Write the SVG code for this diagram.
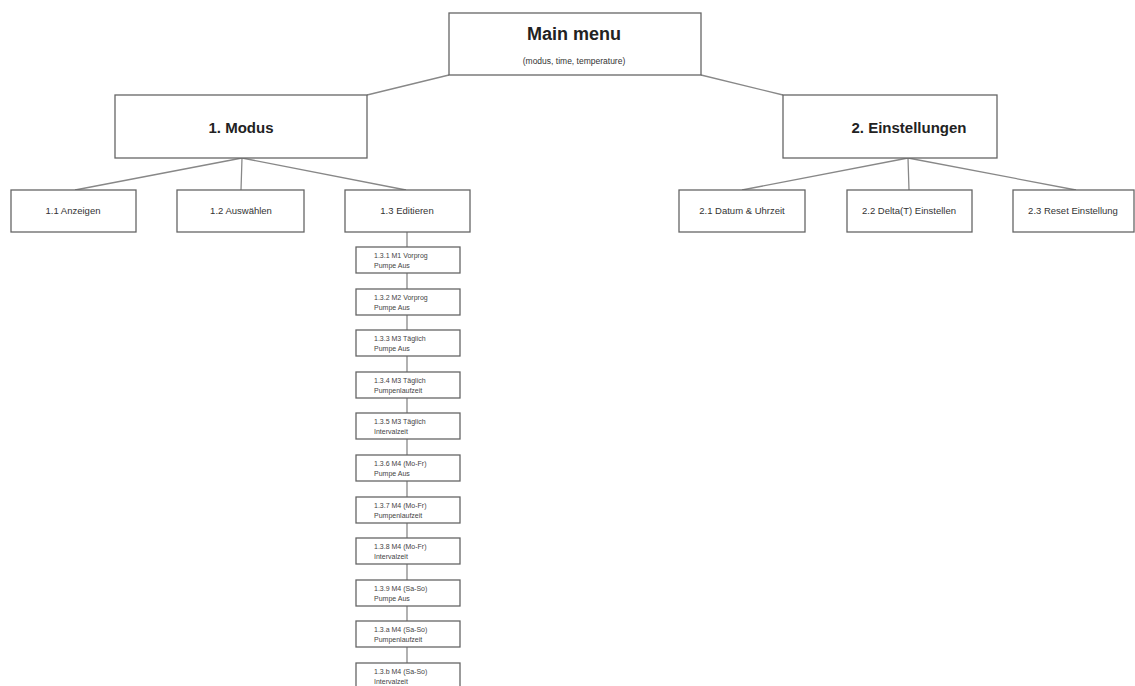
<svg xmlns="http://www.w3.org/2000/svg" width="1135" height="686" viewBox="0 0 1135 686">
<style>
.box{fill:#fff;stroke:#666;stroke-width:1.3}
.ln{stroke:#888;stroke-width:1.3;fill:none}
.t{font-family:"Liberation Sans",Arial,sans-serif;fill:#333;text-anchor:middle}
.big{font-size:18px;font-weight:bold;fill:#222}
.mid{font-size:15px;font-weight:bold;fill:#222}
.sm{font-size:9.5px}
.xs{font-family:"Liberation Sans",Arial,sans-serif;fill:#444;font-size:7px}
</style>
<rect width="1135" height="686" fill="#fff"/>
<g id="connectors">
<line class="ln" x1="449" y1="75" x2="367" y2="95"/>
<line class="ln" x1="701" y1="75" x2="783" y2="95"/>
<line class="ln" x1="242" y1="158" x2="75" y2="190"/>
<line class="ln" x1="242" y1="158" x2="241" y2="190"/>
<line class="ln" x1="242" y1="158" x2="406" y2="190"/>
<line class="ln" x1="908" y1="158" x2="742" y2="190"/>
<line class="ln" x1="908" y1="158" x2="909" y2="190"/>
<line class="ln" x1="908" y1="158" x2="1076" y2="190"/>
<line class="ln" x1="407" y1="232" x2="407" y2="686"/>
</g>
<g id="main"><rect class="box" x="449" y="13" width="252" height="62"/><text class="t big" x="574" y="40">Main menu</text><text class="t" x="574" y="64" font-size="8.5">(modus, time, temperature)</text></g>
<g id="modus"><rect class="box" x="115" y="95" width="252" height="63"/><text class="t mid" x="241" y="133">1. Modus</text></g>
<g id="einst"><rect class="box" x="783" y="95" width="214" height="63"/><text class="t mid" x="909" y="133">2. Einstellungen</text></g>
<g id="n11"><rect class="box" x="11" y="190" width="125" height="42"/><text class="t sm" x="73" y="214">1.1 Anzeigen</text></g>
<g id="n12"><rect class="box" x="177" y="190" width="127" height="42"/><text class="t sm" x="241" y="214">1.2 Auswählen</text></g>
<g id="n13"><rect class="box" x="345" y="190" width="125" height="42"/><text class="t sm" x="407" y="214">1.3 Editieren</text></g>
<g id="n21"><rect class="box" x="679" y="190" width="126" height="42"/><text class="t sm" x="742" y="214">2.1 Datum &amp; Uhrzeit</text></g>
<g id="n22"><rect class="box" x="847" y="190" width="125" height="42"/><text class="t sm" x="909" y="214">2.2 Delta(T) Einstellen</text></g>
<g id="n23"><rect class="box" x="1013" y="190" width="121" height="42"/><text class="t sm" x="1073" y="214">2.3 Reset Einstellung</text></g>
<g id="n131"><rect class="box" x="356" y="247" width="104" height="26"/><text class="xs" x="374" y="258">1.3.1 M1 Vorprog</text><text class="xs" x="374" y="268">Pumpe Aus</text></g>
<g id="n132"><rect class="box" x="356" y="289" width="104" height="26"/><text class="xs" x="374" y="300">1.3.2 M2 Vorprog</text><text class="xs" x="374" y="310">Pumpe Aus</text></g>
<g id="n133"><rect class="box" x="356" y="330" width="104" height="26"/><text class="xs" x="374" y="341">1.3.3 M3 Täglich</text><text class="xs" x="374" y="351">Pumpe Aus</text></g>
<g id="n134"><rect class="box" x="356" y="372" width="104" height="26"/><text class="xs" x="374" y="383">1.3.4 M3 Täglich</text><text class="xs" x="374" y="393">Pumpenlaufzeit</text></g>
<g id="n135"><rect class="box" x="356" y="413" width="104" height="26"/><text class="xs" x="374" y="424">1.3.5 M3 Täglich</text><text class="xs" x="374" y="434">Intervalzeit</text></g>
<g id="n136"><rect class="box" x="356" y="455" width="104" height="26"/><text class="xs" x="374" y="466">1.3.6 M4 (Mo-Fr)</text><text class="xs" x="374" y="476">Pumpe Aus</text></g>
<g id="n137"><rect class="box" x="356" y="497" width="104" height="26"/><text class="xs" x="374" y="508">1.3.7 M4 (Mo-Fr)</text><text class="xs" x="374" y="518">Pumpenlaufzeit</text></g>
<g id="n138"><rect class="box" x="356" y="538" width="104" height="26"/><text class="xs" x="374" y="549">1.3.8 M4 (Mo-Fr)</text><text class="xs" x="374" y="559">Intervalzeit</text></g>
<g id="n139"><rect class="box" x="356" y="580" width="104" height="26"/><text class="xs" x="374" y="591">1.3.9 M4 (Sa-So)</text><text class="xs" x="374" y="601">Pumpe Aus</text></g>
<g id="n13a"><rect class="box" x="356" y="621" width="104" height="26"/><text class="xs" x="374" y="632">1.3.a M4 (Sa-So)</text><text class="xs" x="374" y="642">Pumpenlaufzeit</text></g>
<g id="n13b"><rect class="box" x="356" y="663" width="104" height="26"/><text class="xs" x="374" y="674">1.3.b M4 (Sa-So)</text><text class="xs" x="374" y="684">Intervalzeit</text></g>
</svg>
